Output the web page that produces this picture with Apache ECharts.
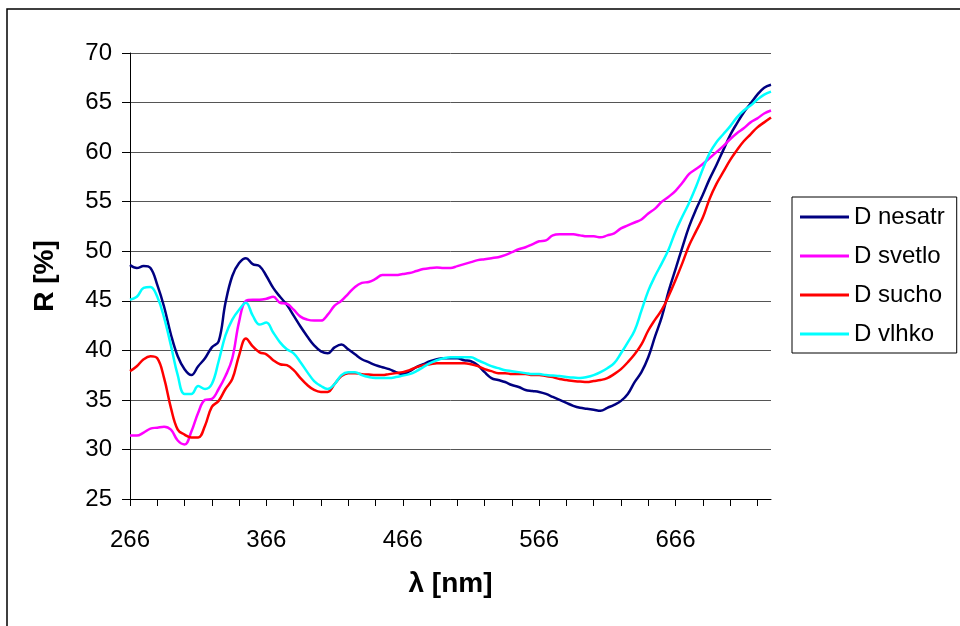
<!DOCTYPE html>
<html>
<head>
<meta charset="utf-8">
<script src="https://cdn.jsdelivr.net/npm/echarts@6/dist/echarts.min.js"></script>
<style>
html,body{margin:0;padding:0;background:#fff;}
#chart{width:960px;height:626px;}
</style>
</head>
<body>
<div id="chart"></div>
<script>
// Wavelengths (nm), 5 nm step
var wavelengths = [
266,271,276,281,286,291,296,301,306,311,
316,321,326,331,336,341,346,351,356,361,
366,371,376,381,386,391,396,401,406,411,
416,421,426,431,436,441,446,451,456,461,
466,471,476,481,486,491,496,501,506,511,
516,521,526,531,536,541,546,551,556,561,
566,571,576,581,586,591,596,601,606,611,
616,621,626,631,636,641,646,651,656,661,
666,671,676,681,686,691,696,701,706,711,
716,721,726,731,736];

var seriesNames = ['D nesatr', 'D svetlo', 'D sucho', 'D vlhko'];

var dNesatr = [
48.6,48.3,48.5,48.3,46.6,44.4,41.6,39.4,38.1,37.5,
38.4,39.2,40.3,40.9,44.8,47.5,48.8,49.3,48.7,48.5,
47.5,46.3,45.4,44.6,43.5,42.4,41.4,40.5,39.9,39.7,
40.3,40.6,40.1,39.6,39.1,38.8,38.5,38.3,38.1,37.8,
37.6,37.9,38.3,38.6,38.9,39.1,39.2,39.2,39.2,39.0,
38.9,38.5,37.8,37.2,37.0,36.8,36.5,36.3,36.0,35.9,
35.8,35.6,35.3,35.0,34.7,34.4,34.2,34.1,34.0,33.9,
34.2,34.5,34.9,35.6,36.8,37.8,39.3,41.4,43.4,46.0,
48.2,50.4,52.5,54.2,55.7,57.3,58.7,60.2,61.7,62.9,
64.0,64.9,65.8,66.5,66.8];

var dSvetlo = [
31.4,31.4,31.7,32.1,32.2,32.3,32.0,30.9,30.5,31.8,
33.7,35.0,35.1,36.1,37.4,39.2,42.9,45.0,45.1,45.1,
45.2,45.4,44.8,44.7,44.1,43.4,43.1,43.0,43.0,43.6,
44.5,45.0,45.7,46.4,46.8,46.9,47.2,47.6,47.6,47.6,
47.7,47.8,48.0,48.2,48.3,48.35,48.3,48.3,48.5,48.7,
48.9,49.1,49.2,49.3,49.4,49.6,49.9,50.2,50.4,50.7,
51.0,51.1,51.6,51.7,51.7,51.7,51.6,51.5,51.5,51.4,
51.6,51.8,52.3,52.6,52.9,53.2,53.8,54.3,55.0,55.5,
56.1,56.9,57.8,58.3,58.8,59.4,60.0,60.6,61.3,61.9,
62.4,63.0,63.4,63.9,64.2];

var dSucho = [
37.9,38.4,39.1,39.4,39.2,37.2,34.2,32.0,31.5,31.2,
31.2,32.4,34.3,34.9,36.1,37.1,39.5,41.2,40.4,39.8,
39.6,39.0,38.6,38.5,38.0,37.2,36.5,36.0,35.8,35.8,
36.6,37.4,37.7,37.7,37.6,37.55,37.5,37.5,37.6,37.7,
37.8,38.0,38.3,38.5,38.6,38.7,38.7,38.7,38.7,38.7,
38.6,38.4,38.1,37.9,37.7,37.7,37.6,37.6,37.6,37.5,
37.5,37.4,37.3,37.1,37.0,36.9,36.85,36.8,36.9,37.0,
37.2,37.6,38.1,38.8,39.6,40.6,42.0,43.1,44.1,45.5,
47.1,48.8,50.6,52.0,53.4,55.3,56.8,58.0,59.2,60.2,
61.1,61.8,62.5,63.0,63.5];

var dVlhko = [
45.1,45.4,46.3,46.4,45.4,43.3,40.5,37.5,35.6,35.6,
36.4,36.1,36.6,38.9,41.5,43.1,44.1,44.8,43.5,42.6,
42.8,41.8,40.8,40.1,39.7,38.8,37.8,36.9,36.4,36.1,
36.6,37.5,37.8,37.8,37.5,37.3,37.2,37.2,37.2,37.3,
37.45,37.6,37.9,38.3,38.7,39.0,39.2,39.3,39.3,39.3,
39.3,39.0,38.7,38.4,38.2,38.0,37.9,37.8,37.7,37.6,
37.6,37.5,37.45,37.4,37.3,37.25,37.2,37.3,37.5,37.8,
38.2,38.7,39.7,40.8,42.0,44.0,46.0,47.5,48.8,50.2,
52.0,53.5,54.9,56.5,58.3,59.9,61.0,61.8,62.6,63.5,
64.2,64.7,65.3,65.8,66.1];

var seriesColors = ['#000080', '#FF00FF', '#FF0000', '#00FFFF'];
var seriesData = [dNesatr, dSvetlo, dSucho, dVlhko];

var FONT = 'Liberation Sans, Arial, sans-serif';

var chart = echarts.init(document.getElementById('chart'), null, {renderer: 'canvas'});

var series = seriesNames.map(function (name, i) {
  return {
    name: name,
    type: 'line',
    data: seriesData[i],
    showSymbol: false,
    symbol: 'none',
    smooth: 0.4,
    color: seriesColors[i],
    lineStyle: {width: 2.5, color: seriesColors[i]},
    emphasis: {disabled: true},
    z: 3
  };
});

chart.setOption({
  animation: false,
  backgroundColor: '#fff',
  graphic: [{
    type: 'rect',
    shape: {x: 7, y: 9, width: 1000, height: 700},
    style: {fill: 'none', stroke: '#000', lineWidth: 1.5},
    silent: true,
    z: -10
  }],
  grid: {left: 130, top: 53, right: 189, bottom: 127, containLabel: false},
  legend: {
    data: seriesNames,
    orient: 'vertical',
    left: 792,
    top: 197,
    padding: [8, 12, 7, 8],
    itemGap: 15,
    itemWidth: 49,
    itemHeight: 3,
    icon: 'rect',
    borderColor: '#000',
    borderWidth: 1,
    backgroundColor: '#fff',
    textStyle: {fontSize: 24, color: '#000', fontFamily: FONT},
    selectedMode: false
  },
  xAxis: {
    type: 'category',
    data: wavelengths,
    boundaryGap: false,
    name: 'λ [nm]',
    nameLocation: 'middle',
    nameGap: 71,
    nameTextStyle: {fontSize: 28, fontWeight: 'bold', color: '#000', fontFamily: FONT},
    axisLine: {show: true, lineStyle: {color: '#000', width: 1}},
    axisTick: {show: true, interval: 3, length: 7, lineStyle: {color: '#000'}},
    axisLabel: {interval: 19, fontSize: 24, color: '#000', margin: 29, fontFamily: FONT},
    splitLine: {show: false}
  },
  yAxis: {
    type: 'value',
    min: 25,
    max: 70,
    interval: 5,
    name: 'R [%]',
    nameLocation: 'middle',
    nameGap: 71,
    nameTextStyle: {fontSize: 28, fontWeight: 'bold', color: '#000', fontFamily: FONT},
    axisLine: {show: true, lineStyle: {color: '#000', width: 1}},
    axisTick: {show: true, length: 8, lineStyle: {color: '#000'}},
    axisLabel: {fontSize: 24, color: '#000', margin: 18, fontFamily: FONT},
    splitLine: {show: true, lineStyle: {color: '#555', width: 1}}
  },
  series: series
});
</script>
</body>
</html>
